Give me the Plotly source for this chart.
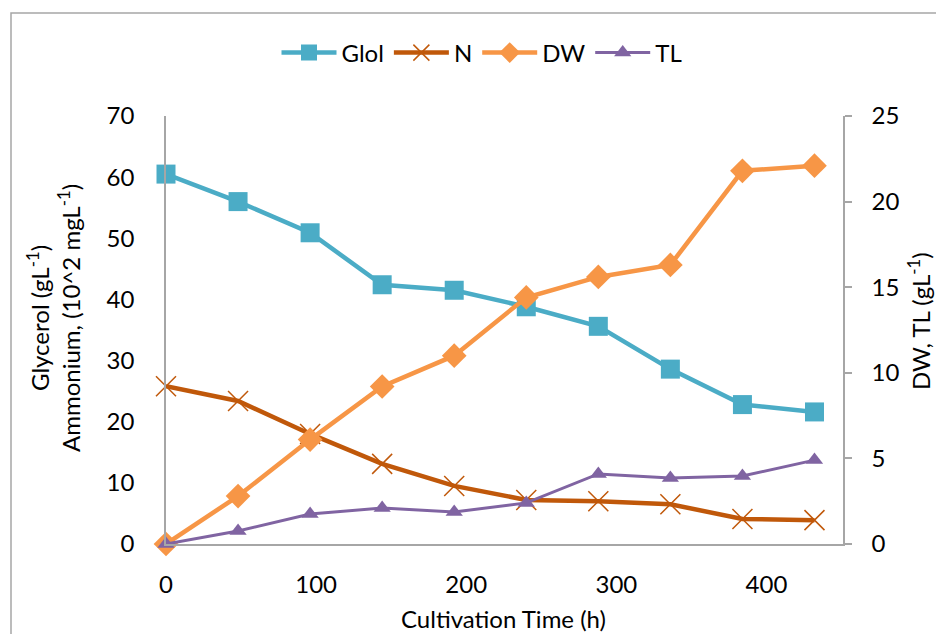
import plotly.graph_objects as go

# ---- data ----
time_h = [0, 48, 96, 144, 192, 240, 288, 336, 384, 432]
glol = [60.5, 56.0, 50.9, 42.4, 41.5, 38.8, 35.6, 28.6, 22.8, 21.6]
ammonium = [25.8, 23.4, 18.0, 13.1, 9.5, 7.2, 7.0, 6.5, 4.1, 3.9]
dw = [0.0, 2.8, 6.1, 9.2, 11.0, 14.4, 15.6, 16.3, 21.8, 22.1]
tl = [0.0, 0.76, 1.75, 2.1, 1.87, 2.4, 4.09, 3.86, 3.97, 4.9]
x_ticks = [0, 100, 200, 300, 400]
left_ticks = [0, 10, 20, 30, 40, 50, 60, 70]
right_ticks = [0, 5, 10, 15, 20, 25]

W, H = 936, 634
L, R, T, B = 166, 93, 116, 90
PW, PH = W - L - R, H - T - B

def px_x(px):
    return (px - L) / PW

def px_y(py):
    return (H - B - py) / PH

FONT = "Lato"
FS = 24
GRAY = "#A6A6A6"

fig = go.Figure()
fig.add_trace(go.Scatter(
    x=time_h, y=glol, name="Glol", mode="lines+markers",
    line=dict(color="#4BACC6", width=4.5),
    marker=dict(symbol="square", size=19, color="#4BACC6"),
    cliponaxis=False))
fig.add_trace(go.Scatter(
    x=time_h, y=ammonium, name="N", mode="lines+markers",
    line=dict(color="#C0580A", width=4.5),
    marker=dict(symbol="x-thin-open", size=20, color="#C0580A",
                line=dict(color="#C0580A", width=1.5)),
    cliponaxis=False))
fig.add_trace(go.Scatter(
    x=time_h, y=dw, name="DW", mode="lines+markers", yaxis="y2",
    line=dict(color="#F79646", width=4.5),
    marker=dict(symbol="diamond", size=19, color="#F79646"),
    cliponaxis=False))
fig.add_trace(go.Scatter(
    x=time_h, y=tl, name="TL", mode="lines+markers", yaxis="y2",
    line=dict(color="#8064A2", width=3),
    marker=dict(symbol="triangle-up", size=15, color="#8064A2"),
    cliponaxis=False))

fig.update_layout(
    width=W, height=H,
    margin=dict(l=L, r=R, t=T, b=B, pad=0),
    paper_bgcolor="white", plot_bgcolor="white",
    font=dict(family=FONT, size=FS, color="#000000"),
    showlegend=True,
    legend=dict(orientation="h", x=px_x(482), xanchor="center",
                y=px_y(53), yanchor="middle",
                font=dict(family=FONT, size=FS), itemwidth=55,
                bgcolor="rgba(0,0,0,0)"),
    xaxis=dict(range=[0, 451], tickvals=x_ticks, showgrid=False,
               zeroline=False, showline=True, linecolor=GRAY, linewidth=1.5,
               ticks="", ticklabelstandoff=18,
               tickfont=dict(family=FONT, size=FS)),
    yaxis=dict(range=[0, 70], tickvals=left_ticks, showgrid=False,
               zeroline=False, showline=True, linecolor=GRAY, linewidth=1.5,
               ticks="", ticklabelstandoff=25,
               tickfont=dict(family=FONT, size=FS)),
    yaxis2=dict(range=[0, 25], tickvals=right_ticks, overlaying="y",
                side="right", showgrid=False, zeroline=False, showline=True,
                linecolor=GRAY, linewidth=1.5, ticks="outside", ticklen=7,
                tickcolor=GRAY, tickwidth=1.5, ticklabelstandoff=15,
                tickfont=dict(family=FONT, size=FS)),
)

# axis titles
fig.add_annotation(
    text="Cultivation Time (h)", xref="paper", yref="paper",
    x=px_x(503), y=px_y(618), xanchor="center", yanchor="middle",
    showarrow=False, font=dict(family=FONT, size=FS))
fig.add_annotation(
    text="Glycerol (gL<sup>-1</sup>)<br>Ammonium, (10^2 mgL<sup>-1</sup>)",
    xref="paper", yref="paper", x=px_x(53), y=px_y(318),
    xanchor="center", yanchor="middle", textangle=-90, showarrow=False,
    font=dict(family=FONT, size=FS))
fig.add_annotation(
    text="DW, TL (gL<sup>-1</sup>)", xref="paper", yref="paper",
    x=px_x(919), y=px_y(321), xanchor="center", yanchor="middle",
    textangle=-90, showarrow=False, font=dict(family=FONT, size=FS))

# chart border (Excel chart area)
fig.add_shape(type="rect", xref="paper", yref="paper",
              x0=px_x(11), x1=px_x(960), y0=px_y(660), y1=px_y(13),
              line=dict(color=GRAY, width=1.5), fillcolor="rgba(0,0,0,0)",
              layer="below")

fig.write_html("out.html")
